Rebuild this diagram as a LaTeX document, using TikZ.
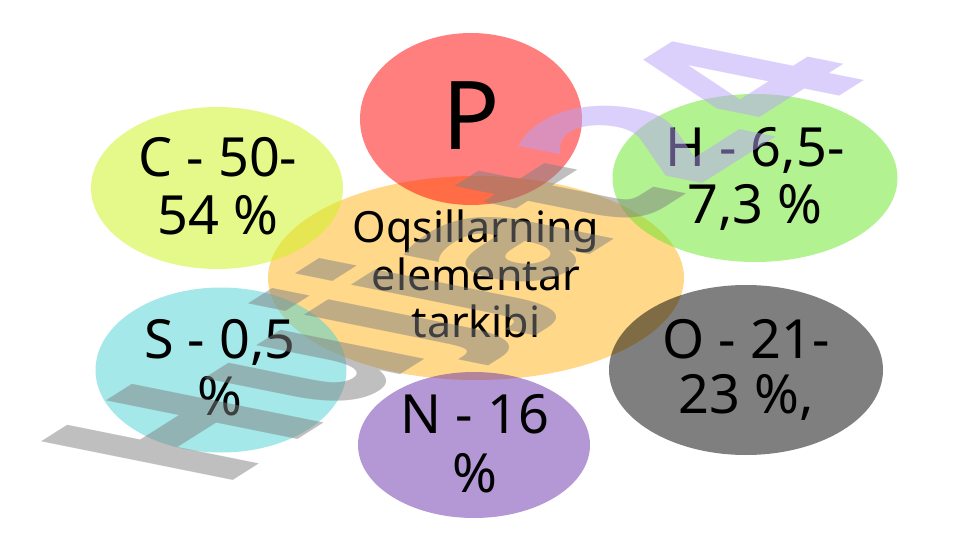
\documentclass[tikz,border=0pt]{standalone}
\usepackage{fontspec}
\setmainfont{Noto Sans}
\newfontfamily\wmfont{DejaVu Sans}
\usetikzlibrary{shapes.geometric}
\definecolor{cCen}{RGB}{255,179,23}
\definecolor{cP}{RGB}{255,1,1}
\definecolor{cC}{RGB}{205,245,25}
\definecolor{cH}{RGB}{103,231,37}
\definecolor{cS}{RGB}{77,211,213}
\definecolor{cN}{RGB}{107,49,173}
\definecolor{cO}{RGB}{1,1,1}
\definecolor{wmgray}{RGB}{128,128,128}
\definecolor{wmlav}{RGB}{185,161,249}
\tikzset{
  blob/.style={ellipse, inner sep=0pt, fill opacity=0.5, draw=none},
  lbl/.style={anchor=base, inner sep=0pt, text=black, font=\fontsize{54}{58}\selectfont},
  clbl/.style={anchor=base, inner sep=0pt, text=black, font=\fontsize{43}{47}\selectfont},
  wm/.style={anchor=base west, inner sep=0pt, text opacity=0.5, font=\wmfont\bfseries\fontsize{10}{12}\selectfont}
}
\begin{document}
\begin{tikzpicture}[x=1pt,y=1pt]
\useasboundingbox (0,0) rectangle (961,-540);
\fill[white] (0,0) rectangle (961,-540);
% ellipses
\node[blob, fill=cCen, minimum width=416pt, minimum height=204pt] (cen) at (476,-278) {};
\node[blob, fill=cP, minimum width=222pt, minimum height=172pt] (eP) at (471,-119) {};
\node[blob, fill=cC, minimum width=252pt, minimum height=162pt] (eC) at (217,-188) {};
\node[blob, fill=cH, minimum width=285pt, minimum height=168pt] (eH) at (755,-178) {};
\node[blob, fill=cS, minimum width=251pt, minimum height=165pt] (eS) at (221,-370) {};
\node[blob, fill=cN, minimum width=232pt, minimum height=146pt] (eN) at (474,-445) {};
\node[blob, fill=cO, minimum width=274pt, minimum height=170pt] (eO) at (746,-370) {};
% labels
\node[anchor=base, inner sep=0pt, font=\fontsize{95}{100}\selectfont] (tP) at (471,-150) {P};
\node[clbl] (tcen1) at (476,-243) {Oqsillarning};
\node[clbl] (tcen2) at (476,-290) {elementar};
\node[clbl] (tcen3) at (476,-337) {tarkibi};
\node[lbl] (tC1) at (218,-177) {C - 50-};
\node[lbl] (tC2) at (218,-235) {54 \%};
\node[lbl] (tH1) at (755,-167) {H - 6,5-};
\node[lbl] (tH2) at (755,-223) {7,3 \%};
\node[lbl] (tS1) at (220,-358) {S - 0,5};
\node[lbl] (tS2) at (220,-415) {\%};
\node[lbl] (tO1) at (746,-358) {O - 21-};
\node[lbl] (tO2) at (746,-413) {23 \%,};
\node[lbl] (tN1) at (475,-433) {N - 16};
\node[lbl] (tN2) at (475,-492) {\%};
% watermark
\begin{scope}[cm={13.9,8.8,-26.3,5.3,(218,-490)}]
\node[wm, transform shape] (wmark) at (0,0) {\textcolor{wmgray}{Hujjat}\textcolor{wmlav}{24}};
\end{scope}
\end{tikzpicture}
\end{document}
